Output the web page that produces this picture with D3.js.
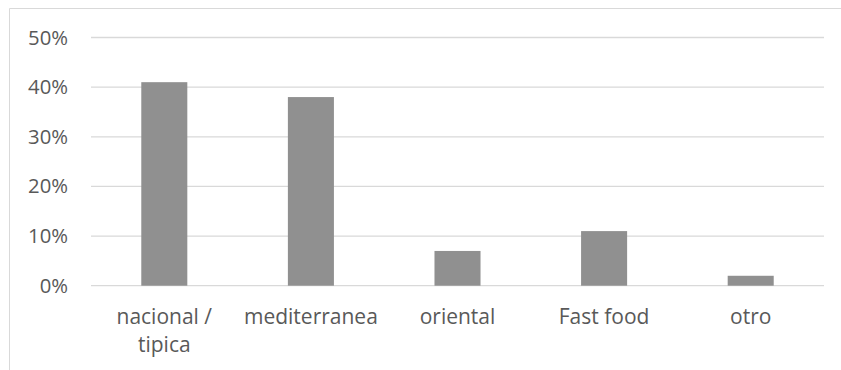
<!DOCTYPE html>
<html>
<head>
<meta charset="utf-8">
<script src="https://cdn.jsdelivr.net/npm/d3@7"></script>
<style>
  html, body { margin: 0; padding: 0; background: #fff; }
  svg { display: block; }
  text { font-family: "Open Sans", sans-serif; fill: #595959; }
</style>
</head>
<body>
<svg id="chart" width="841" height="370"></svg>
<script>
// Preferred cuisine type, share of respondents
const categories = ["nacional / tipica", "mediterranea", "oriental", "Fast food", "otro"];
const values = [0.41, 0.38, 0.07, 0.11, 0.02];
const yTicks = [0, 0.1, 0.2, 0.3, 0.4, 0.5];

const width = 841, height = 370;
const plot = { left: 91, right: 824, top: 37.5, bottom: 285.7 };

const svg = d3.select("#chart");

// chart area frame (clipped at the right and bottom edges)
svg.append("path")
  .attr("d", `M9.5,${height + 1} V8.5 H${width + 1}`)
  .attr("fill", "none")
  .attr("stroke", "#d9d9d9")
  .attr("stroke-width", 1);

const x = d3.scaleBand()
  .domain(categories)
  .range([plot.left, plot.right])
  .paddingInner(0.686)
  .paddingOuter(0.343);

const y = d3.scaleLinear()
  .domain([0, 0.5])
  .range([plot.bottom, plot.top]);

// horizontal gridlines
svg.append("g")
  .selectAll("line")
  .data(yTicks)
  .join("line")
  .attr("x1", plot.left)
  .attr("x2", plot.right)
  .attr("y1", d => y(d))
  .attr("y2", d => y(d))
  .attr("stroke", "#d9d9d9")
  .attr("stroke-width", 1.3);

// y axis labels
const yAxis = d3.axisLeft(y)
  .tickValues(yTicks)
  .tickFormat(d3.format(".0%"))
  .tickSize(0)
  .tickPadding(23);

svg.append("g")
  .attr("transform", `translate(${plot.left},0)`)
  .call(yAxis)
  .call(g => g.select(".domain").remove())
  .call(g => g.selectAll("text")
    .attr("font-family", "Open Sans, sans-serif")
    .attr("font-size", 20.3)
    .attr("fill", "#595959"));

// bars
svg.append("g")
  .selectAll("rect")
  .data(categories)
  .join("rect")
  .attr("x", d => x(d))
  .attr("width", x.bandwidth())
  .attr("y", (d, i) => y(values[i]))
  .attr("height", (d, i) => y(0) - y(values[i]))
  .attr("fill", "#909090");

// category labels, wrapped to the category width
const step = x.step();
const labels = svg.append("g")
  .selectAll("text")
  .data(categories)
  .join("text")
  .attr("x", d => x(d) + x.bandwidth() / 2)
  .attr("y", 324)
  .attr("text-anchor", "middle")
  .attr("font-size", 21);

labels.each(function(d) {
  const t = d3.select(this);
  const words = d.split(" ");
  let line = [];
  let tspan = t.append("tspan").attr("x", t.attr("x")).attr("dy", 0);
  words.forEach(w => {
    line.push(w);
    tspan.text(line.join(" "));
    if (tspan.node().getComputedTextLength() > step - 4 && line.length > 1) {
      line.pop();
      tspan.text(line.join(" "));
      line = [w];
      tspan = t.append("tspan").attr("x", t.attr("x")).attr("dy", 28).text(w);
    }
  });
});
</script>
</body>
</html>
